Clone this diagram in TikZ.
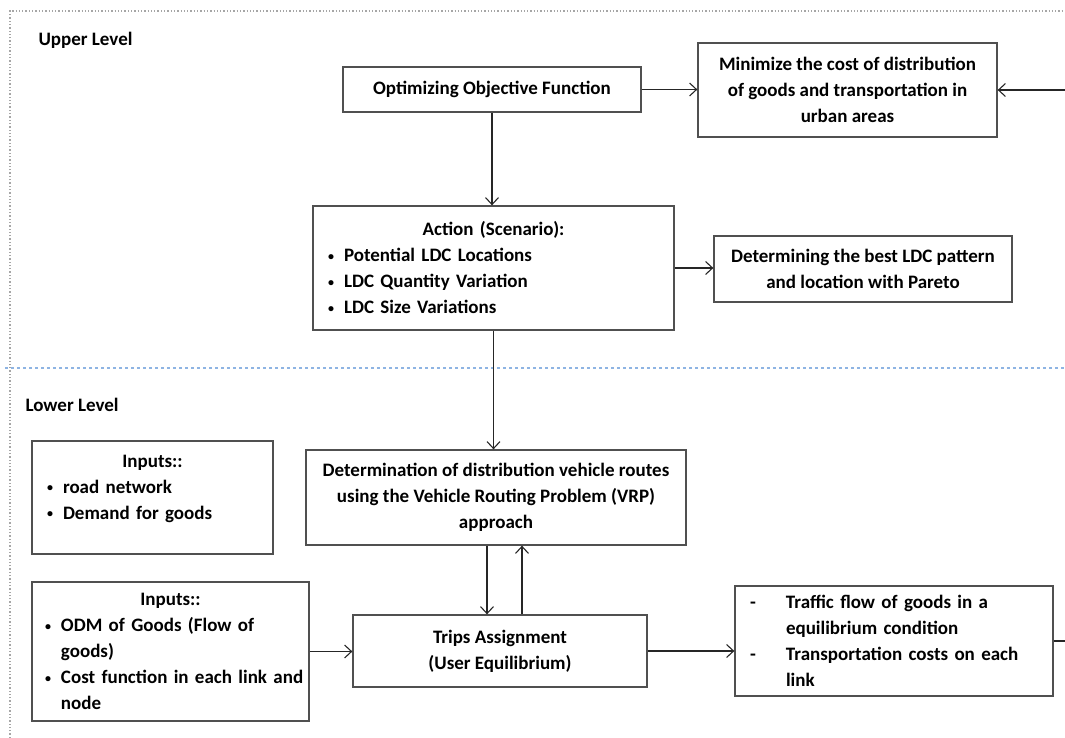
\documentclass[tikz,border=0pt]{standalone}
\usepackage{fontspec}
\setmainfont{Carlito}
\usetikzlibrary{arrows.meta}

\definecolor{boxgray}{HTML}{505050}
\definecolor{lvlblue}{HTML}{8EB4E3}
\newcommand{\bulmark}{\raisebox{1.5pt}{\fontsize{12}{12}\selectfont\textbullet}}
\newcommand{\bul}[1]{\makebox[\hsize][l]{\makebox[16pt][l]{\bulmark}#1}}
\newcommand{\dsh}[1]{\makebox[\hsize][l]{\makebox[36pt][l]{-}#1}}
\newcommand{\cnt}[2][16pt]{\makebox[\hsize][l]{\hspace{#1}#2}}

\tikzset{
  box/.style={draw=boxgray, line width=1.3pt, inner sep=0pt, align=center,
    font=\bfseries\fontsize{19}{26}\selectfont},
  link/.style={draw=black!85, line width=1.1pt, -{Straight Barb[length=7pt,width=13pt]}},
  lvl/.style={anchor=west, font=\bfseries\fontsize{19}{22}\selectfont}
}

\begin{document}
\begin{tikzpicture}[x=1pt,y=-1pt]
	\useasboundingbox (0,0) rectangle (1065,738);
	% frame and level separator
	\draw[gray!70, dotted, line width=1.3pt] (10,738) -- (10,11) -- (1065,11);
	\draw[lvlblue, dashed, line width=1.1pt] (5,368) -- (1065,368);
	\node[lvl] (up) at (35,40) {Upper Level};
	\node[lvl] (low) at (22,405) {Lower Level};
	
	% upper level
	\node[box, minimum width=298, minimum height=45] (opt) at (492,89.5) {Optimizing Objective Function};
	\node[box, minimum width=299, minimum height=94] (min) at (847.5,90) {Minimize the cost of distribution\\ of goods and transportation in\\ urban areas};
	\coordinate (inR) at (1065,90);
	\node[box, minimum width=361, minimum height=124, text width=331] (act) at (493.5,268) {Action (Scenario):\\ \bul{Potential LDC Locations}\\ \bul{LDC Quantity Variation}\\ \bul{LDC Size Variations}};
	\node[box, minimum width=298, minimum height=66] (det) at (863,269) {Determining the best LDC pattern\\ and location with Pareto};
	
	% lower level
	\node[box, minimum width=241, minimum height=113, text width=211] (in1) at (152.5,497.5) {Inputs::\\ \bul{road network}\\ \bul{Demand for goods}\\[-5pt] \mbox{}};
	\node[box, minimum width=380, minimum height=95] (vrp) at (496,497.5) {Determination of distribution vehicle routes\\ using the Vehicle Routing Problem (VRP)\\ approach};
	\node[box, minimum width=277, minimum height=139, text width=251] (in2) at (170.5,651.5) {Inputs::\\ \bul{ODM of Goods (Flow of}\\ \cnt{goods)}\\ \bul{Cost function in each link and}\\ \cnt{node}};
	\node[box, minimum width=294, minimum height=72] (trip) at (500,651) {Trips Assignment\\ (User Equilibrium)};
	\node[box, minimum width=318, minimum height=110, text width=288] (trf) at (894,641) {\dsh{Traffic flow of goods in a}\\ \cnt[36pt]{equilibrium condition}\\ \dsh{Transportation costs on each}\\ \cnt[36pt]{link}};
	\coordinate (outR) at (1065,641);
	
	% connectors
	\draw[link] (opt.east) -- (opt.east -| min.west);
	\draw[link] (inR) -- (min.east);
	\draw[link] (opt.south) -- (opt.south |- act.north);
	\draw[link] (act.east) -- (act.east -| det.west);
	\draw[link] (act.south) -- (act.south |- vrp.north);
	\draw[link] ([xshift=-9pt]vrp.south) -- ([xshift=-9pt]vrp.south |- trip.north);
	\draw[link] ([xshift=26pt]vrp.south |- trip.north) -- ([xshift=26pt]vrp.south);
	\draw[link] (in2.east) -- (in2.east -| trip.west);
	\draw[link] (trip.east) -- (trip.east -| trf.west);
	\draw[draw=black!85, line width=1.1pt] (trf.east) -- (outR);
\end{tikzpicture}
\end{document}
